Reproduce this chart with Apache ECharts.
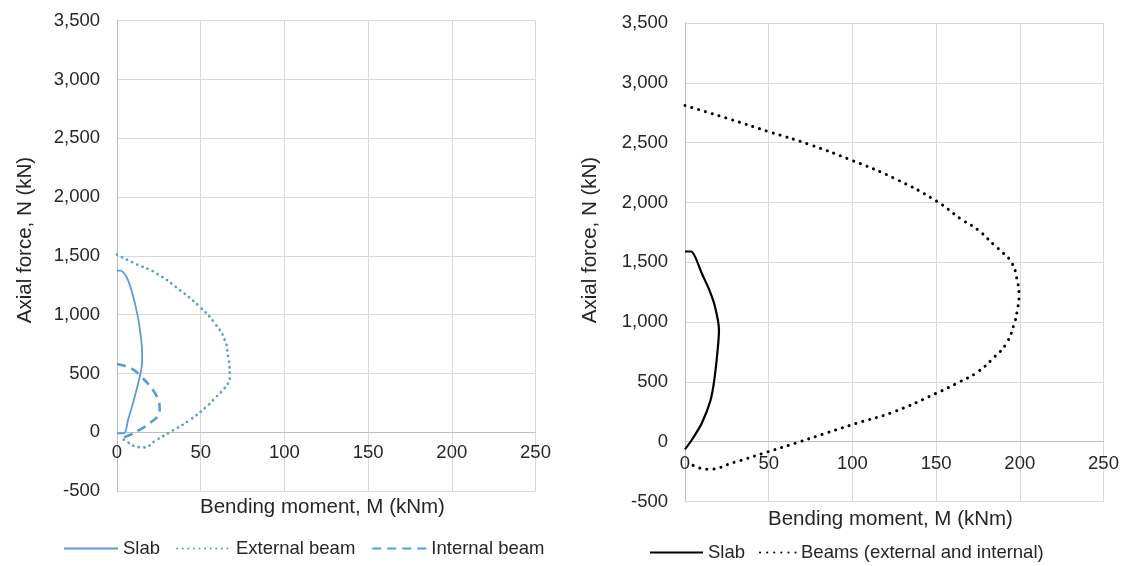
<!DOCTYPE html>
<html>
<head>
<meta charset="utf-8">
<script src="https://cdn.jsdelivr.net/npm/echarts@6/dist/echarts.min.js"></script>
<style>html,body{margin:0;padding:0;background:#fff}#c{width:1124px;height:566px}</style>
</head>
<body>
<div id="c"></div>
<script>
// ---- Data (M in kNm, N in kN) ----
const xTicks = [0, 50, 100, 150, 200, 250];
const yTicks = [-500, 0, 500, 1000, 1500, 2000, 2500, 3000, 3500];

// Left chart
const slabL_M = [0, 2, 5.6, 8.6, 12.2, 14.5, 15, 15, 14, 10.6, 6.6, 4, 0];
const slabL_N = [1375, 1375, 1323, 1210, 1000, 785, 672, 600, 500, 303, 105, -8, -8];
const extBeam_M = [0, 10, 23.5, 37.5, 49.4, 58.4, 64.4, 66.4, 67.2, 67.4, 66.5, 63.3, 58.5, 53.4, 43.5, 31.5, 23.5, 16, 10, 5.6, 2];
const extBeam_N = [1510, 1440, 1352, 1210, 1068, 927, 785, 643, 560, 473, 420, 360, 290, 218, 105, 0, -65, -128, -115, -75, -45];
const intBeam_M = [0, 8.6, 14.5, 21.5, 25, 25.5, 25, 19.5, 13.5, 7.6, 2];
const intBeam_N = [581, 544, 473, 360, 260, 200, 150, 77, 20, -23, -55];

// Right chart
const slabR_M = [0, 3.6, 6, 10, 14.5, 17.9, 20.3, 19.5, 17.5, 15.3, 10, 4, 0];
const slabR_N = [1590, 1590, 1547, 1408, 1269, 1129, 934, 767, 516, 349, 154, 14, -64];
const beams_M = [0, 25, 50, 75, 100, 125, 150, 165, 175, 185, 190, 195, 198, 199.5, 198.5, 197, 192, 185, 175, 164, 150, 125, 102.5, 85, 68.7, 46.7, 30, 13.3, 2];
const beams_N = [2810, 2704, 2592, 2481, 2350, 2202, 2013, 1860, 1770, 1640, 1578, 1500, 1380, 1210, 1100, 1000, 822, 711, 585, 500, 404, 251, 154, 75, 0, -97, -170, -231, -175];

const seriesNames = ['Slab', 'External beam', 'Internal beam', 'Slab ', 'Beams (external and internal)'];
const xTitle = 'Bending moment, M (kNm)';
const yTitle = 'Axial force, N (kN)';

function zip(a, b) { return a.map((v, i) => [v, b[i]]); }

const FONT = 'Liberation Sans, Arial, sans-serif';
const TXT = '#262626';
const BLUE = '#5B9BD5';

function xAxisCfg(gi, margin, offset) {
  return {
    type: 'value', gridIndex: gi, position: 'bottom', offset: offset,
    min: xTicks[0], max: xTicks[xTicks.length - 1], interval: 50,
    axisLine: { show: true, onZero: false, lineStyle: { color: '#bfbfbf', width: 1 } },
    axisTick: { show: false },
    axisLabel: { color: TXT, fontFamily: FONT, fontSize: 18.5, margin: margin },
    splitLine: { show: true, lineStyle: { color: '#d9d9d9', width: 1 } }
  };
}
function yAxisCfg(gi) {
  return {
    type: 'value', gridIndex: gi, min: yTicks[0], max: yTicks[yTicks.length - 1], interval: 500,
    axisLine: { show: true, onZero: false, lineStyle: { color: '#bfbfbf', width: 1 } },
    axisTick: { show: false },
    axisLabel: { color: TXT, fontFamily: FONT, fontSize: 18.5, margin: 17,
      formatter: v => v.toLocaleString('en-US') },
    splitLine: { show: true, lineStyle: { color: '#d9d9d9', width: 1 } }
  };
}

const GL = { left: 117, top: 20.7, width: 418.5, height: 470.4 };
const GR = { left: 685, top: 23, width: 418.5, height: 478.5 };
// offset of the x axis so it sits on N = 0
const offL = -GL.height * (0 - yTicks[0]) / (yTicks[yTicks.length - 1] - yTicks[0]);
const offR = -GR.height * (0 - yTicks[0]) / (yTicks[yTicks.length - 1] - yTicks[0]);

const chart = echarts.init(document.getElementById('c'), null, { renderer: 'canvas' });
const legendText = { color: TXT, fontFamily: FONT, fontSize: 18.5 };
const legendBase = { itemHeight: 14, textStyle: legendText, selectedMode: false, padding: 0, itemStyle: { opacity: 0 } };
chart.setOption({
  animation: false,
  backgroundColor: '#fff',
  grid: [GL, GR],
  xAxis: [xAxisCfg(0, 11, offL), xAxisCfg(1, 13, offR)],
  yAxis: [yAxisCfg(0), yAxisCfg(1)],
  legend: [
    Object.assign({ data: [seriesNames[0], seriesNames[1], seriesNames[2]], left: 63, top: 539, itemWidth: 54, itemGap: 16 }, legendBase),
    Object.assign({ data: [seriesNames[3]], left: 649, top: 543, itemWidth: 53 }, legendBase),
    Object.assign({ data: [seriesNames[4]], left: 759, top: 543, itemWidth: 36 }, legendBase)
  ],
  graphic: [
    { type: 'text', left: 326 - 126, top: 497, style: { text: xTitle, font: '20.5px ' + FONT, fill: TXT } },
    { type: 'text', left: 894 - 126, top: 509, style: { text: xTitle, font: '20.5px ' + FONT, fill: TXT } },
    { type: 'text', x: 25, y: 240, rotation: Math.PI / 2, style: { text: yTitle, font: '20.5px ' + FONT, fill: TXT, align: 'center', verticalAlign: 'middle' } },
    { type: 'text', x: 590, y: 240, rotation: Math.PI / 2, style: { text: yTitle, font: '20.5px ' + FONT, fill: TXT, align: 'center', verticalAlign: 'middle' } }
  ],
  series: [
    { name: seriesNames[0], type: 'line', xAxisIndex: 0, yAxisIndex: 0, data: zip(slabL_M, slabL_N), symbol: 'none', smooth: 0.4,
      lineStyle: { color: BLUE, width: 1.8 }, itemStyle: { color: BLUE } },
    { name: seriesNames[1], type: 'line', xAxisIndex: 0, yAxisIndex: 0, data: zip(extBeam_M, extBeam_N), symbol: 'none', smooth: 0.5,
      lineStyle: { color: BLUE, width: 2.7, type: [0.1, 5.5], cap: 'round' }, itemStyle: { color: BLUE } },
    { name: seriesNames[2], type: 'line', xAxisIndex: 0, yAxisIndex: 0, data: zip(intBeam_M, intBeam_N), symbol: 'none', smooth: 0.4,
      lineStyle: { color: BLUE, width: 2.6, type: [9, 6] }, itemStyle: { color: BLUE } },
    { name: seriesNames[3], type: 'line', xAxisIndex: 1, yAxisIndex: 1, data: zip(slabR_M, slabR_N), symbol: 'none', smooth: 0.3,
      lineStyle: { color: '#000', width: 2.2 }, itemStyle: { color: '#000' } },
    { name: seriesNames[4], type: 'line', xAxisIndex: 1, yAxisIndex: 1, data: zip(beams_M, beams_N), symbol: 'none', smooth: 0.5,
      lineStyle: { color: '#000', width: 3, type: [0.1, 7], cap: 'round' }, itemStyle: { color: '#000' } }
  ]
});
</script>
</body>
</html>
